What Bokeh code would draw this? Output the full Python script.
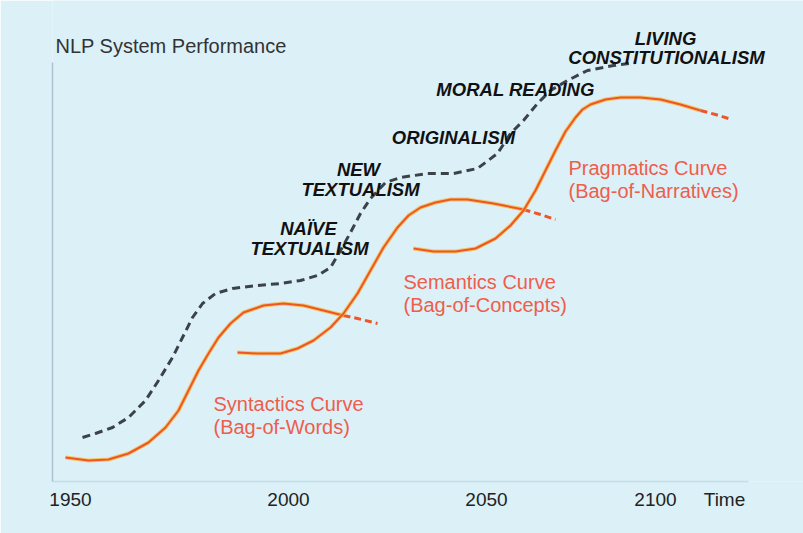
from bokeh.plotting import figure
from bokeh.models import Range1d, FixedTicker
from bokeh.core.properties import value
from bokeh.embed import file_html
from bokeh.resources import INLINE

# ---- data (x: time position, y: performance) ----
syn_x = [65, 88, 108, 128, 148, 165, 178, 188, 198, 208, 218, 230, 243, 263, 283, 303, 323, 343]
syn_y = [24, 21, 22, 28, 39, 54, 71, 91, 111, 128, 144, 158, 169, 176, 178, 176, 171, 166]
syn_tail_x = [343, 357, 377]
syn_tail_y = [166, 163, 158]

sem_x = [237, 257, 280, 297, 313, 330, 343, 357, 370, 383, 397, 408, 420, 435, 450, 467, 493, 523]
sem_y = [129, 128, 128, 133, 141, 154, 168, 188, 211, 234, 254, 266, 274, 279, 282, 282, 278, 272]
sem_tail_x = [523, 540, 555]
sem_tail_y = [272, 267, 262]

prag_x = [413, 433, 455, 475, 495, 510, 523, 535, 545, 555, 565, 575, 582, 590, 605, 620, 640, 660, 680, 700]
prag_y = [233, 230, 230, 233, 243, 256, 271, 291, 311, 331, 350, 364, 372, 377, 382, 384, 384, 382, 377, 371]
prag_tail_x = [700, 715, 728]
prag_tail_y = [371, 367, 363]

env_x = [82, 95, 112, 128, 145, 158, 172, 182, 192, 202, 215, 232, 257, 280, 300, 317, 330, 340,
         350, 360, 370, 385, 400, 427, 453, 477, 497, 510, 523, 537, 550, 567, 587, 613, 635]
env_y = [44, 48, 54, 64, 81, 101, 124, 144, 164, 178, 188, 193, 196, 198, 201, 206, 214, 231,
         249, 268, 283, 299, 304, 308, 308, 313, 328, 348, 361, 378, 391, 401, 411, 416, 419]

theory_labels = ["LIVING", "CONSTITUTIONALISM", "MORAL READING", "ORIGINALISM",
                 "NEW", "TEXTUALISM", "NAÏVE", "TEXTUALISM"]
theory_x = [665, 666, 515, 453, 358, 360, 308, 309]
theory_y = [443, 424, 392, 344, 312, 292, 253, 233]

curve_labels = ["Pragmatics Curve", "(Bag-of-Narratives)", "Semantics Curve", "(Bag-of-Concepts)",
                "Syntactics Curve", "(Bag-of-Words)"]
curve_lx = [568, 568, 403, 403, 213, 213]
curve_ly = [314, 291, 200, 177, 78, 55]

title_text = ["NLP System Performance"]
title_x = [55]
title_y = [436]

tick_pos = [70, 288, 486, 655, 724]
tick_labels = ["1950", "2000", "2050", "2100", "Time"]

BG = "#dcf0f8"
ORANGE = "#ee5527"
HALO = "#f6bd45"
DARK = "#3b4248"
FONT = "Liberation Sans"

p = figure(width=803, height=533, output_backend="svg", toolbar_location=None,
           x_range=Range1d(52, 803), y_range=Range1d(0, 481),
           min_border_left=52, min_border_right=0, min_border_top=0, min_border_bottom=52)
p.background_fill_color = BG
p.border_fill_color = BG
p.outline_line_color = None
p.grid.visible = False

# axes
xa = p.xaxis[0]
xa.ticker = FixedTicker(ticks=tick_pos)
xa.major_label_overrides = {t: l for t, l in zip(tick_pos, tick_labels)}
xa.bounds = (52, 748)
xa.axis_line_color = "#c3dde9"
xa.axis_line_width = 1.5
xa.major_tick_line_color = None
xa.minor_tick_line_color = None
xa.major_label_text_font = FONT
xa.major_label_text_font_size = "19px"
xa.major_label_text_color = "#222222"
xa.major_label_standoff = 1

ya = p.yaxis[0]
ya.bounds = (0, 419)
ya.axis_line_color = "#a9c3d3"
ya.axis_line_width = 1.5
ya.major_tick_line_color = None
ya.minor_tick_line_color = None
ya.major_label_text_font_size = "0px"
ya.major_label_text_color = None

# envelope (dashed)
p.line(env_x, env_y, line_color=DARK, line_width=3, line_dash="8 5")

# orange curves
for xs, ys, tx, ty in [(syn_x, syn_y, syn_tail_x, syn_tail_y),
                       (sem_x, sem_y, sem_tail_x, sem_tail_y),
                       (prag_x, prag_y, prag_tail_x, prag_tail_y)]:
    p.line(xs, ys, line_color=HALO, line_width=4, line_alpha=0.8)
    p.line(xs, ys, line_color=ORANGE, line_width=2)
    p.line(tx, ty, line_color=ORANGE, line_width=3, line_dash="7 4")

# labels
p.text(x=theory_x, y=theory_y, text=theory_labels, text_font=value(FONT),
       text_font_style="bold italic", text_font_size="18.5px", text_color="#111111",
       text_align="center", text_baseline="middle")
p.text(x=curve_lx, y=curve_ly, text=curve_labels, text_font=value(FONT),
       text_font_size="20px", text_color="#ef5d4b",
       text_align="left", text_baseline="middle")
p.text(x=title_x, y=title_y, text=title_text, text_font=value(FONT),
       text_font_size="20px", text_color="#333333",
       text_align="left", text_baseline="middle")

open("out.html", "w").write(file_html(p, INLINE))
